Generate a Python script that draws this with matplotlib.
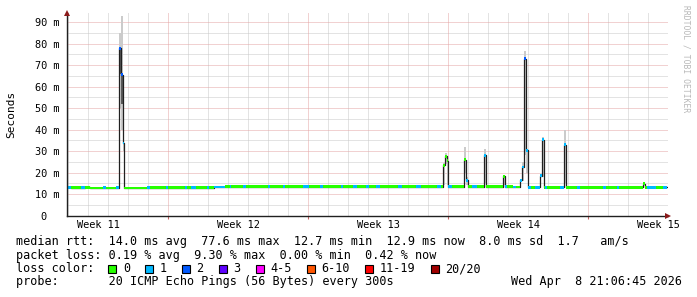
import matplotlib
matplotlib.use("Agg")
import matplotlib.pyplot as plt
from matplotlib.patches import Rectangle

# ---------------- data ----------------
# time axis: days from the first daily grid line of the month view
seg_day = [-0.09, 0.14, 0.64, 0.84, 1.09, 1.74, 1.89, 2.39, 2.52,
           2.56, 2.64, 2.72, 2.81,
           3.94, 4.09, 4.89, 5.01, 5.84, 5.96, 6.14, 6.39, 6.92, 7.04,
           7.29, 7.84, 8.09, 8.16, 8.74, 8.89, 9.99, 10.09, 10.74, 10.84,
           11.74, 12.04, 12.59, 12.74, 13.64, 13.74, 14.24, 14.44, 14.89,
           15.04, 15.39, 15.59, 16.49, 16.69, 17.39, 17.64, 18.44, 18.64,
           18.76, 18.86, 18.94, 19.00, 19.19,
           19.80, 19.88, 19.99, 20.19, 20.44,
           20.79, 20.88, 21.76, 21.84, 21.94, 22.24, 22.39,
           22.58, 22.68, 22.79, 22.89, 22.98, 23.14, 23.34,
           23.61, 23.70, 23.80, 23.84, 23.94, 24.59,
           24.78, 24.88, 25.44, 25.59, 26.74, 26.89, 27.44, 27.54,
           28.76, 28.82, 28.94, 29.39, 29.74]
seg_median_ms = [13.2, 12.9, 13.0, 13.1, 12.8, 12.9, 12.8, 12.9, 12.9,
                 77.9, 65.5, 33.8, 12.8,
                 12.9, 12.9, 12.9, 12.9, 12.9, 12.9, 12.9, 12.9, 12.9, 12.9,
                 13.3, 13.4, 13.4, 13.4, 13.4, 13.4, 13.4, 13.4, 13.4, 13.4,
                 13.4, 13.4, 13.4, 13.4, 13.4, 13.4, 13.4, 13.4, 13.4,
                 13.4, 13.4, 13.4, 13.4, 13.4, 13.4, 13.4, 13.4, 13.4,
                 23.3, 27.5, 25.6, 13.4, 13.4,
                 26.0, 16.3, 13.4, 13.4, 13.4,
                 28.0, 13.4, 18.2, 13.4, 13.4, 13.3, 13.3,
                 16.3, 22.6, 73.0, 30.3, 13.1, 13.1, 13.1,
                 18.6, 35.3, 13.1, 13.1, 13.1, 13.1,
                 33.0, 13.1, 13.1, 13.1, 13.1, 13.1, 13.1, 13.1,
                 14.8, 13.1, 13.1, 13.1, 13.1]
seg_loss = [1, 0, 1, 0, 0, 1, 0, 1, 0,
            2, 2, 1, 0,
            1, 0, 1, 0, 1, 0, 1, 0, 1, 0,
            1, 0, 1, 0, 1, 0, 1, 0, 1, 0,
            1, 0, 1, 0, 1, 0, 1, 0, 1,
            0, 1, 0, 1, 0, 1, 0, 1, 0,
            0, 0, 0, 1, 0,
            0, 1, 0, 1, 0,
            1, 0, 0, 1, 0, 1, 0,
            1, 1, 2, 1, 1, 0, 1,
            1, 1, 0, 1, 0, 1,
            1, 0, 1, 0, 1, 0, 1, 0,
            0, 0, 1, 0, 1]
end_day = 29.93

# smoke (spread of the 20 pings) around the spikes
smoke_start = [2.56, 2.64, 2.72, 18.76, 18.86, 18.94, 19.80, 19.88, 20.79,
               21.76, 22.68, 22.79, 22.89, 23.70, 24.78]
smoke_end = [2.64, 2.72, 2.81, 18.86, 18.94, 19.00, 19.88, 19.99, 20.88,
             21.84, 22.79, 22.89, 22.98, 23.80, 24.88]
smoke_lo_ms = [50, 40, 30, 14, 24, 14, 20, 14, 15, 14, 16, 28, 20, 18, 15]
smoke_hi_ms = [85, 93, 37, 24.5, 29.0, 27, 31.8, 18, 30.8, 19, 25, 76.5, 31,
               36.5, 39.6]
core_start = [2.56, 2.64]
core_end = [2.64, 2.72]
core_lo_ms = [66, 52]
core_hi_ms = [78, 66]

ytick_ms = [0, 10, 20, 30, 40, 50, 60, 70, 80, 90]
ytick_labels = ["0  ", "10 m", "20 m", "30 m", "40 m", "50 m", "60 m",
                "70 m", "80 m", "90 m"]
week_pos = [1.5, 8.5, 15.5, 22.5, 29.5]
week_labels = ["Week 11", "Week 12", "Week 13", "Week 14", "Week 15"]

loss_labels = ["0", "1", "2", "3", "4-5", "6-10", "11-19", "20/20"]
loss_colors = ["#26ff00", "#00b8ff", "#0059ff", "#5e00ff", "#ff00ff",
               "#ff5500", "#ff0000", "#a00000"]

line_rtt = ("median rtt:  14.0 ms avg  77.6 ms max  12.7 ms min  "
            "12.9 ms now  8.0 ms sd  1.7   am/s")
line_loss = "packet loss: 0.19 % avg  9.30 % max  0.00 % min  0.42 % now"
line_probe = "probe:       20 ICMP Echo Pings (56 Bytes) every 300s"
date_text = "Wed Apr  8 21:06:45 2026"

# ---------------- drawing ----------------
MONO = "DejaVu Sans Mono"
W, H = 697, 297
fig = plt.figure(figsize=(W / 100, H / 100), dpi=100, facecolor="white")
ax_l, ax_r, ax_t, ax_b = 66.5, 668.0, 13.0, 215.5
ax = fig.add_axes([ax_l / W, (H - ax_b) / H, (ax_r - ax_l) / W, (ax_b - ax_t) / H])
ax.set_facecolor("white")
ax.set_xlim(-0.09, 29.99)
ax.set_ylim(0, 94.3)

# grid (dotted)
minor_c = "#c8c8c8"
major_c = "#e4a4a4"
dot = (0, (1, 1))
for d in range(0, 30):
    if d in (5, 12, 19, 26):
        continue
    ax.axvline(d, color=minor_c, lw=0.72, ls=dot, zorder=0.5)
for v in range(5, 95, 10):
    ax.axhline(v, color=minor_c, lw=0.72, ls=dot, zorder=0.5)
for d in (5, 12, 19, 26):
    ax.axvline(d, color=major_c, lw=0.72, ls=dot, zorder=0.6)
for v in range(10, 95, 10):
    ax.axhline(v, color=major_c, lw=0.72, ls=dot, zorder=0.6)

# smoke
ax.bar(smoke_start, [h - l for h, l in zip(smoke_hi_ms, smoke_lo_ms)],
       width=[e - s for e, s in zip(smoke_end, smoke_start)], bottom=smoke_lo_ms,
       align="edge", color="#cbcbcb", linewidth=0, zorder=1)
ax.bar(core_start, [h - l for h, l in zip(core_hi_ms, core_lo_ms)],
       width=[e - s for e, s in zip(core_end, core_start)], bottom=core_lo_ms,
       align="edge", color="#5a5a5a", linewidth=0, zorder=1.1)

# median line
xs = seg_day + [end_day]
ys = seg_median_ms + [seg_median_ms[-1]]
ax.step(xs, ys, where="post", color="#202020", lw=0.9, zorder=2)

# loss coloured band around the median
sw = 0.65
widths = [xs[i + 1] - xs[i] for i in range(len(seg_day))]
ax.bar(seg_day, [2 * sw] * len(seg_day), width=widths,
       bottom=[m - sw for m in seg_median_ms], align="edge",
       color=[loss_colors[l] for l in seg_loss], linewidth=0, zorder=3)

# axes styling
for s in ("top", "right"):
    ax.spines[s].set_visible(False)
for s in ("left", "bottom"):
    ax.spines[s].set_color("#202020")
    ax.spines[s].set_linewidth(1.0)
    ax.spines[s].set_zorder(4)
ax.set_yticks(ytick_ms)
ax.set_yticklabels(ytick_labels, family=MONO, fontsize=7.4)
ax.set_xticks(week_pos)
ax.set_xticklabels(week_labels, family=MONO, fontsize=7.4)
ax.tick_params(axis="y", length=0, pad=5)
ax.tick_params(axis="x", length=0, pad=3.5)
ax.set_xticks([5, 12, 19, 26], minor=True)
ax.tick_params(axis="x", which="minor", length=2, color="#c06060", width=0.8,
               direction="out")

# arrows
ax.plot([0], [1.0], transform=ax.transAxes, marker="^", ms=4.5,
        color="#8b1a1a", clip_on=False, zorder=5, mew=0)
ax.plot([1.0], [0], transform=ax.transAxes, marker=">", ms=4.5,
        color="#8b1a1a", clip_on=False, zorder=5, mew=0)

# y label and watermark
fig.text(11 / W, 1 - 114 / H, "Seconds", rotation=90, family=MONO, fontsize=8,
         ha="center", va="center")
fig.text(686 / W, 1 - 5 / H, "RRDTOOL / TOBI OETIKER", rotation=270, family=MONO,
         fontsize=5.8, color="#b8b8b8", ha="center", va="top")

# legend text
FS = 8.5
CW = 7.1  # character advance in px
fig.text(16 / W, 1 - 241 / H, line_rtt, family=MONO, fontsize=FS, va="center")
fig.text(16 / W, 1 - 255.5 / H, line_loss, family=MONO, fontsize=FS, va="center")
fig.text(16 / W, 1 - 268.5 / H, "loss color:", family=MONO, fontsize=FS,
         va="center")
bx = 108.3
for lab, col in zip(loss_labels, loss_colors):
    fig.patches.append(Rectangle((bx / W, 1 - 272.5 / H), 8 / W, 8 / H,
                                 transform=fig.transFigure, facecolor=col,
                                 edgecolor="black", linewidth=0.8))
    fig.text((bx + 14.5) / W, 1 - 268.5 / H, lab, family=MONO, fontsize=FS,
             va="center")
    bx = bx + 14.5 + len(lab) * CW + 15.3
fig.text(16 / W, 1 - 282 / H, line_probe, family=MONO, fontsize=FS, va="center")
fig.text(682 / W, 1 - 282 / H, date_text, family=MONO, fontsize=FS, va="center",
         ha="right")

fig.savefig("out.png", dpi=100, facecolor="white")
